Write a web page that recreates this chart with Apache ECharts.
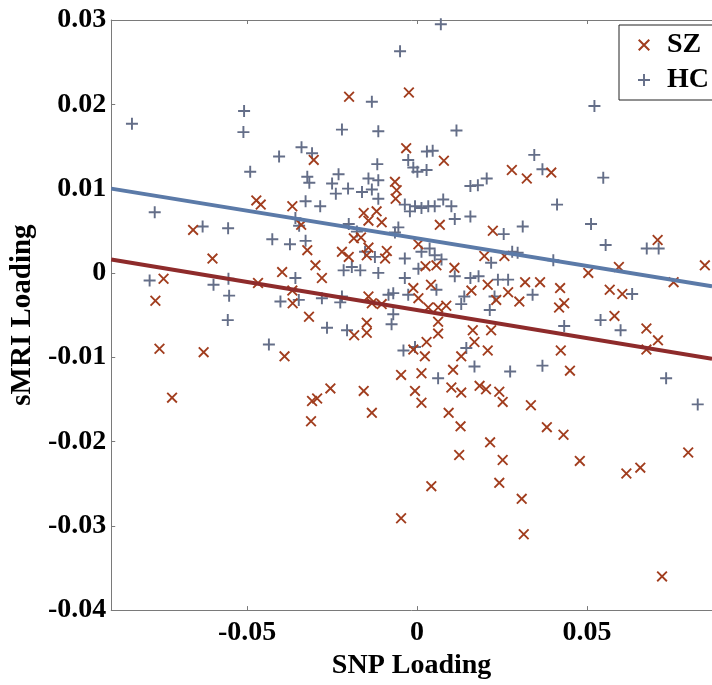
<!DOCTYPE html>
<html>
<head>
<meta charset="utf-8">
<script src="https://cdn.jsdelivr.net/npm/echarts@6/dist/echarts.min.js"></script>
<style>
html,body{margin:0;padding:0;background:#fff;}
#chart{width:712px;height:685px;}
</style>
</head>
<body>
<div id="chart"></div>
<script>
// SZ: [SNP loading, sMRI loading]
const szData = [
[-0.0659,0.0051],[-0.0602,0.0017],[-0.0746,-0.0007],[-0.0770,-0.0033],[-0.0758,-0.0090],[-0.0628,-0.0094],[-0.0721,-0.0148],
[-0.0473,0.0086],[-0.0460,0.0081],[-0.0367,0.0079],[-0.0397,0.0001],[-0.0468,-0.0012],[-0.0367,-0.0021],[-0.0366,-0.0036],
[-0.0318,-0.0052],[-0.0323,0.0027],[-0.0299,0.0009],[-0.0280,-0.0006],[-0.0390,-0.0099],[-0.0304,0.0134],[-0.0341,0.0057],
[-0.0255,-0.0137],[-0.0309,-0.0152],[-0.0294,-0.0149],[-0.0312,-0.0176],[-0.0185,-0.0074],[-0.0148,-0.0059],[-0.0148,-0.0071],
[-0.0157,-0.0140],[-0.0133,-0.0166],[-0.0200,0.0209],[-0.0024,0.0214],[-0.0032,0.0148],[0.0079,0.0133],[-0.0065,0.0108],
[-0.0060,0.0098],[-0.0063,0.0088],[-0.0157,0.0071],[-0.0119,0.0073],[-0.0104,0.0060],[-0.0143,0.0062],[0.0067,0.0057],
[-0.0186,0.0041],[-0.0165,0.0042],[-0.0221,0.0025],[-0.0201,0.0019],[-0.0143,0.0030],[-0.0148,0.0021],[-0.0089,0.0026],
[-0.0094,0.0017],[0.0004,0.0034],[0.0025,0.0008],[0.0057,0.0009],[0.0110,0.0006],[0.0041,-0.0014],[-0.0011,-0.0018],
[0.0004,-0.0030],[0.0033,-0.0041],[0.0062,-0.0041],[0.0086,-0.0039],[0.0160,-0.0021],[-0.0143,-0.0028],[-0.0133,-0.0036],
[-0.0104,-0.0037],[0.0062,-0.0058],[0.0062,-0.0072],[0.0028,-0.0082],[-0.0011,-0.0091],[0.0023,-0.0099],[0.0130,-0.0099],
[-0.0047,-0.0121],[0.0013,-0.0119],[0.0106,-0.0115],[-0.0006,-0.0140],[0.0013,-0.0154],[0.0101,-0.0136],[0.0130,-0.0142],
[0.0093,-0.0166],[0.0128,-0.0182],[0.0124,-0.0216],[0.0042,-0.0253],[-0.0047,-0.0291],
[0.0279,0.0122],[0.0323,0.0112],[0.0395,0.0119],[0.0223,0.0050],[0.0198,0.0020],[0.0257,0.0020],[0.0504,0.0000],
[0.0594,0.0007],[0.0708,0.0039],[0.0847,0.0009],[0.0755,-0.0011],[0.0208,-0.0014],[0.0318,-0.0011],[0.0362,-0.0011],
[0.0268,-0.0023],[0.0301,-0.0034],[0.0233,-0.0032],[0.0421,-0.0018],[0.0433,-0.0036],[0.0418,-0.0041],[0.0567,-0.0020],
[0.0604,-0.0025],[0.0581,-0.0051],[0.0675,-0.0066],[0.0709,-0.0080],[0.0675,-0.0091],[0.0218,-0.0068],[0.0164,-0.0068],
[0.0169,-0.0082],[0.0208,-0.0092],[0.0423,-0.0092],[0.0450,-0.0116],[0.0184,-0.0134],[0.0203,-0.0138],[0.0242,-0.0141],
[0.0252,-0.0153],[0.0335,-0.0157],[0.0382,-0.0183],[0.0431,-0.0192],[0.0215,-0.0201],[0.0798,-0.0213],[0.0252,-0.0222],
[0.0479,-0.0223],[0.0616,-0.0238],[0.0657,-0.0231],[0.0242,-0.0249],[0.0308,-0.0268],[0.0314,-0.0310],[0.0721,-0.0360]
];
// HC: [SNP loading, sMRI loading]
const hcData = [
[-0.0839,0.0177],[-0.0772,0.0072],[-0.0631,0.0055],[-0.0556,0.0053],[-0.0509,0.0192],[-0.0511,0.0167],[-0.0491,0.0120],
[-0.0406,0.0138],[-0.0340,0.0149],[-0.0309,0.0142],[-0.0323,0.0114],[-0.0317,0.0107],[-0.0426,0.0040],[-0.0374,0.0034],
[-0.0328,0.0038],[-0.0787,-0.0009],[-0.0599,-0.0014],[-0.0555,-0.0007],[-0.0553,-0.0027],[-0.0557,-0.0056],[-0.0358,-0.0006],
[-0.0402,-0.0034],[-0.0348,-0.0032],[-0.0436,-0.0085],[-0.0358,0.0065],[-0.0347,0.0056],[-0.0328,0.0085],[-0.0285,0.0079],
[0.0070,0.0295],[-0.0050,0.0263],[-0.0133,0.0203],[-0.0221,0.0170],[-0.0114,0.0168],[0.0116,0.0169],[-0.0117,0.0129],
[-0.0231,0.0117],[-0.0250,0.0106],[-0.0239,0.0094],[-0.0203,0.0100],[-0.0162,0.0096],[-0.0143,0.0112],[-0.0114,0.0110],
[-0.0133,0.0099],[-0.0026,0.0134],[-0.0011,0.0125],[0.0001,0.0120],[0.0028,0.0122],[0.0029,0.0144],[0.0046,0.0145],
[-0.0114,0.0088],[-0.0036,0.0081],[-0.0021,0.0073],[-0.0006,0.0079],[0.0013,0.0077],[0.0033,0.0079],[0.0052,0.0079],
[0.0077,0.0087],[0.0101,0.0079],[0.0111,0.0064],[0.0157,0.0067],[0.0157,0.0103],[0.0179,0.0104],[0.0205,0.0112],
[-0.0201,0.0058],[-0.0177,0.0049],[-0.0065,0.0048],[-0.0055,0.0054],[-0.0153,0.0025],[-0.0124,0.0019],[-0.0036,0.0017],
[0.0013,0.0025],[0.0037,0.0029],[0.0052,0.0021],[0.0072,0.0016],[0.0004,0.0005],[0.0111,-0.0004],[0.0157,-0.0006],
[-0.0216,0.0003],[-0.0192,0.0007],[-0.0167,0.0003],[-0.0114,0.0000],[-0.0036,-0.0006],[0.0057,-0.0020],[0.0139,-0.0028],
[0.0130,-0.0037],[-0.0026,-0.0026],[-0.0084,-0.0026],[-0.0070,-0.0024],[-0.0221,-0.0028],[-0.0226,-0.0035],[-0.0280,-0.0030],
[-0.0070,-0.0049],[-0.0265,-0.0065],[-0.0206,-0.0068],[-0.0075,-0.0061],[-0.0006,-0.0088],[-0.0040,-0.0092],[0.0145,-0.0089],
[0.0062,-0.0125],
[0.0345,0.0140],[0.0369,0.0123],[0.0548,0.0113],[0.0522,0.0198],[0.0412,0.0081],[0.0311,0.0055],[0.0512,0.0058],
[0.0255,0.0046],[0.0555,0.0033],[0.0676,0.0029],[0.0711,0.0029],[0.0218,0.0012],[0.0280,0.0025],[0.0296,0.0024],
[0.0401,0.0015],[0.0181,-0.0004],[0.0238,-0.0008],[0.0268,-0.0008],[0.0340,-0.0026],[0.0228,-0.0028],[0.0633,-0.0025],
[0.0214,-0.0044],[0.0433,-0.0063],[0.0540,-0.0056],[0.0599,-0.0068],[0.0169,-0.0111],[0.0274,-0.0117],[0.0369,-0.0110],
[0.0733,-0.0125],[0.0826,-0.0156]
];
// visible x range (the plot is cut at the right edge of the picture)
const xRange = [-0.09, 0.0868];
const yRange = [-0.04, 0.03];
const yStep = 0.01;
const xTickValues = [-0.05, 0, 0.05];
// regression line end points [SNP, sMRI]
const szFitLine = [[-0.09, 0.0016], [0.0868, -0.0102]];
const hcFitLine = [[-0.09, 0.0100], [0.0868, -0.0016]];
const seriesNames = ['SZ', 'HC'];

const FONT = 'Liberation Serif';
const frame = '#7a7a7a';
const szColor = '#a13d1e';
const hcColor = '#646e88';
const szLineColor = '#8e2b2b';
const hcLineColor = '#5b7aa8';
const plusPath = 'path://M4.2,0H5.8V10H4.2Z M0,4.2H10V5.8H0Z';
const crossPath = 'path://M0,1.2L1.2,0L10,8.8L8.8,10Z M8.8,0L10,1.2L1.2,10L0,8.8Z';

const fmt = v => (Math.abs(v) < 1e-9 ? '0' : (+v).toFixed(2));

const chart = echarts.init(document.getElementById('chart'), null, {renderer: 'canvas'});
const labelStyle = {fontFamily: FONT, fontWeight: 'bold', fontSize: 28, color: '#000'};

chart.setOption({
  animation: false,
  backgroundColor: '#fff',
  grid: {left: 108, top: 20, right: 0, bottom: 63, containLabel: false},
  graphic: [{
    type: 'rect', z: 10, silent: true,
    shape: {x: 619, y: 25, width: 120, height: 75},
    style: {fill: '#fff', stroke: '#222', lineWidth: 1}
  }],
  legend: {
    data: [
      {name: seriesNames[0], icon: crossPath},
      {name: seriesNames[1], icon: plusPath}
    ],
    orient: 'vertical',
    left: 619, top: 25, z: 11,
    itemWidth: 30, itemHeight: 12, itemGap: 7,
    padding: [6, 10, 6, 19],
    textStyle: {fontFamily: FONT, fontWeight: 'bold', fontSize: 28, color: '#000', padding: [0, 0, 0, 3]}
  },
  xAxis: [{
    type: 'value', min: xRange[0], max: xRange[1], position: 'bottom',
    name: 'SNP Loading', nameLocation: 'middle', nameGap: 40,
    nameTextStyle: {fontFamily: FONT, fontWeight: 'bold', fontSize: 28, color: '#000'},
    axisLine: {show: true, onZero: false, lineStyle: {color: frame, width: 1}},
    axisTick: {show: true, inside: true, length: 4, customValues: xTickValues, lineStyle: {color: frame}},
    axisLabel: Object.assign({margin: 9, customValues: xTickValues, formatter: fmt}, labelStyle),
    splitLine: {show: false}
  }, {
    type: 'value', min: xRange[0], max: xRange[1], position: 'top',
    axisLine: {show: true, onZero: false, lineStyle: {color: frame, width: 1}},
    axisTick: {show: true, inside: true, length: 4, customValues: xTickValues, lineStyle: {color: frame}},
    axisLabel: {show: false},
    splitLine: {show: false}
  }],
  yAxis: [{
    type: 'value', min: yRange[0], max: yRange[1], interval: yStep, position: 'left',
    name: 'sMRI Loading', nameLocation: 'middle', nameGap: 68,
    nameTextStyle: {fontFamily: FONT, fontWeight: 'bold', fontSize: 29, color: '#000'},
    axisLine: {show: true, onZero: false, lineStyle: {color: frame, width: 1}},
    axisTick: {show: true, inside: true, length: 4, lineStyle: {color: frame}},
    axisLabel: Object.assign({margin: 5, formatter: fmt}, labelStyle),
    splitLine: {show: false}
  }],
  series: [{
    name: seriesNames[0], type: 'scatter', data: szData,
    symbol: crossPath, symbolSize: 11,
    itemStyle: {color: szColor, opacity: 1},
    z: 3
  }, {
    name: seriesNames[1], type: 'scatter', data: hcData,
    symbol: plusPath, symbolSize: 12,
    itemStyle: {color: hcColor, opacity: 1},
    z: 2
  }, {
    name: 'SZ fit', type: 'line', data: szFitLine, showSymbol: false, symbol: 'none',
    lineStyle: {color: szLineColor, width: 4}, z: 4, silent: true
  }, {
    name: 'HC fit', type: 'line', data: hcFitLine, showSymbol: false, symbol: 'none',
    lineStyle: {color: hcLineColor, width: 4}, z: 4, silent: true
  }]
});
</script>
</body>
</html>
